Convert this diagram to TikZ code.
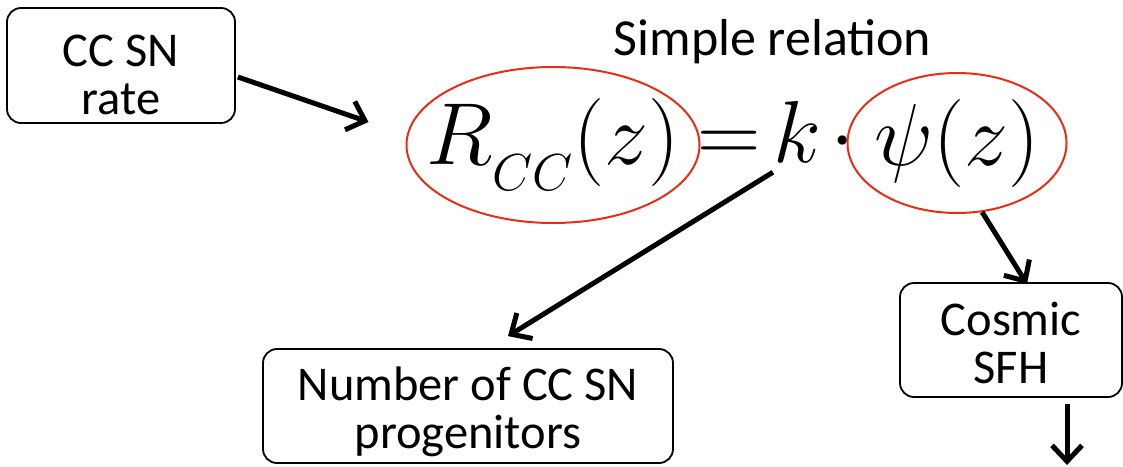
\RequirePackage{fix-cm}
\documentclass[tikz,border=0pt]{standalone}
\usepackage{fontspec}
\newfontfamily\boxfont{Carlito}
\usetikzlibrary{arrows.meta,calc,shapes.geometric}
\definecolor{ellred}{RGB}{232,45,20}
\begin{document}
\begin{tikzpicture}[x=1pt,y=-1pt,
  box/.style={draw=black, line width=1.8pt, rounded corners=14pt, align=center, inner sep=0pt, font=\boxfont\fontsize{48.5}{48}\selectfont},
  ring/.style={draw=ellred, line width=2pt, ellipse, inner ysep=0pt, font=\fontsize{88}{88}\selectfont},
  sym/.style={inner sep=0pt, anchor=base, font=\fontsize{88}{88}\selectfont},
  conn/.style={line width=5pt, -{Straight Barb[length=16pt,width=30pt]}}]
\useasboundingbox (0,0) rectangle (1123,466);

\node[box, minimum width=228pt, minimum height=115pt] (ccsn) at (121,65.5) {\rule{0pt}{50pt}CC SN\\rate};
\node[font=\boxfont\fontsize{52}{52}\selectfont, anchor=base, inner sep=0pt] (title) at (772.5,55) {Simple relation};

\node[ring, inner xsep=-30pt, minimum width=293pt, minimum height=156pt] (lhs) at (553,145)
  {$R$\raisebox{-26pt}{\fontsize{52}{52}\selectfont$CC$}$(z)$};
\node[sym] (eq) at (729,162) {$=$};
\node[sym] (k) at (797,162) {$k$};
\node[sym] (dot) at (843,162) {$\cdot$};
\node[ring, inner xsep=-20pt, minimum width=219pt, minimum height=140pt] (rhs) at (957,143)
  {$\psi(z)$};

\node[box, minimum width=410pt, minimum height=114pt] (num) at (468,406) {\rule{0pt}{45pt}Number of CC SN\\progenitors};
\node[box, minimum width=222pt, minimum height=114pt] (sfh) at (1011,340) {\rule{0pt}{39pt}Cosmic\\SFH};
\coordinate (out) at (1067,465);

\draw[conn] ($(ccsn.east)+(2,11.5)$) -- ($(lhs.west)+(-37,-23)$);
\draw[conn] ($(k.south west)+(0,10)$) -- ($(num.north)+(40,-12)$);
\draw[conn] (rhs.-70) -- ($(sfh.north)+(16,2)$);
\draw[conn] ($(sfh.south)+(56,6)$) -- (out);
\end{tikzpicture}
\end{document}
